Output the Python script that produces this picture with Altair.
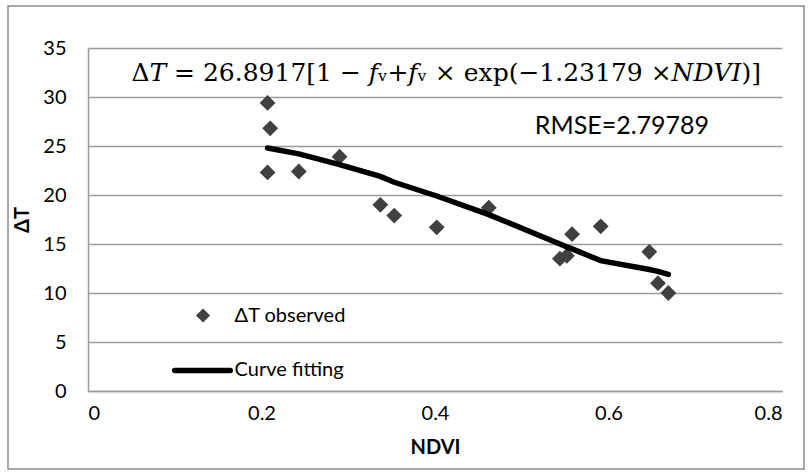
import altair as alt
import pandas as pd

# Observed points
obs_ndvi = [0.207, 0.210, 0.207, 0.243, 0.290, 0.337, 0.353, 0.402, 0.462, 0.544, 0.552, 0.558, 0.591, 0.647, 0.657, 0.669]
obs_dt = [29.4, 26.8, 22.3, 22.4, 23.9, 19.0, 17.9, 16.7, 18.7, 13.5, 13.8, 16.0, 16.8, 14.2, 11.0, 10.0]

# Fitted curve
fit_ndvi = [0.207, 0.243, 0.290, 0.337, 0.353, 0.402, 0.462, 0.544, 0.552, 0.558, 0.591, 0.647, 0.657, 0.669]
fit_dt = [24.8, 24.2, 23.1, 21.9, 21.3, 19.9, 18.0, 15.0, 14.7, 14.5, 13.3, 12.4, 12.2, 11.9]

x_ticks = [0, 0.2, 0.4, 0.6, 0.8]
y_ticks = [0, 5, 10, 15, 20, 25, 30, 35]

equation = "Δ𝑇 = 26.8917[1 − 𝑓ᵥ+𝑓ᵥ × exp(−1.23179 ×𝑁𝐷𝑉𝐼)]"
rmse_label = "RMSE=2.79789"
legend_labels = ["ΔT observed", "Curve fitting"]

obs = pd.DataFrame({"NDVI": obs_ndvi, "dT": obs_dt})
fit = pd.DataFrame({"NDVI": fit_ndvi, "dT": fit_dt})

FONT = "Lato"
GRID = "#9a9a9a"
PT = "#404040"

xs = alt.Scale(domain=[0, 0.8], nice=False)
ys = alt.Scale(domain=[0, 35], nice=False)

xax = alt.Axis(values=x_ticks, grid=False, ticks=False, domainColor=GRID, domainWidth=1.5,
               labelFont=FONT, labelFontSize=20, labelColor="#000", labelPadding=12,
               title="NDVI", titleFont=FONT, titleFontSize=20, titleFontWeight="bold",
               titleColor="#000", titlePadding=14, format="~g")
yax = alt.Axis(values=y_ticks, grid=True, gridColor=GRID, gridWidth=1.5, ticks=False,
               domainColor=GRID, domainWidth=1.5,
               labelFont=FONT, labelFontSize=20, labelColor="#000", labelPadding=22,
               title="ΔT", titleFont=FONT, titleFontSize=20, titleFontWeight="bold",
               titleColor="#000", titlePadding=10)

border = alt.Chart(pd.DataFrame({"a": [0]})).mark_rect(
    fill=None, stroke="#8c8c8c", strokeWidth=1.5, clip=False
).encode(x=alt.value(-80), x2=alt.value(716), y=alt.value(-42), y2=alt.value(421))

points = alt.Chart(obs).mark_point(shape="diamond", filled=True, color=PT, size=250, opacity=1).encode(
    x=alt.X("NDVI:Q", scale=xs, axis=xax),
    y=alt.Y("dT:Q", scale=ys, axis=yax),
)

line = alt.Chart(fit).mark_line(color="#000", strokeWidth=5.5, strokeCap="round").encode(
    x=alt.X("NDVI:Q", scale=xs), y=alt.Y("dT:Q", scale=ys)
)

eq = alt.Chart(pd.DataFrame({"x": [0.05], "y": [32.5], "t": [equation]})).mark_text(
    align="left", baseline="middle", font="DejaVu Serif", fontSize=25, color="#000"
).encode(x=alt.X("x:Q", scale=xs), y=alt.Y("y:Q", scale=ys), text="t:N")

rmse = alt.Chart(pd.DataFrame({"x": [0.515], "y": [27.0], "t": [rmse_label]})).mark_text(
    align="left", baseline="middle", font=FONT, fontSize=25, color="#000"
).encode(x=alt.X("x:Q", scale=xs), y=alt.Y("y:Q", scale=ys), text="t:N")

leg_pt = alt.Chart(pd.DataFrame({"x": [0.1326], "y": [7.7]})).mark_point(
    shape="diamond", filled=True, color=PT, size=200, opacity=1
).encode(x=alt.X("x:Q", scale=xs), y=alt.Y("y:Q", scale=ys))

leg_line = alt.Chart(pd.DataFrame({"x": [0.100, 0.164], "y": [2.1, 2.1]})).mark_line(
    color="#000", strokeWidth=5.5, strokeCap="round"
).encode(x=alt.X("x:Q", scale=xs), y=alt.Y("y:Q", scale=ys))

leg_txt = alt.Chart(pd.DataFrame({"x": [0.169, 0.169], "y": [7.7, 2.1], "t": legend_labels})).mark_text(
    align="left", baseline="middle", font=FONT, fontSize=20, color="#000"
).encode(x=alt.X("x:Q", scale=xs), y=alt.Y("y:Q", scale=ys), text="t:N")

chart = alt.layer(border, points, line, eq, rmse, leg_pt, leg_line, leg_txt).properties(
    width=694, height=343,
    padding={"left": 88, "top": 48, "right": 30, "bottom": 85},
    autosize=alt.AutoSizeParams(type="none"),
    background="white",
).configure_view(stroke=None)

chart.save("out.html", embed_options={"renderer": "svg", "actions": False})
